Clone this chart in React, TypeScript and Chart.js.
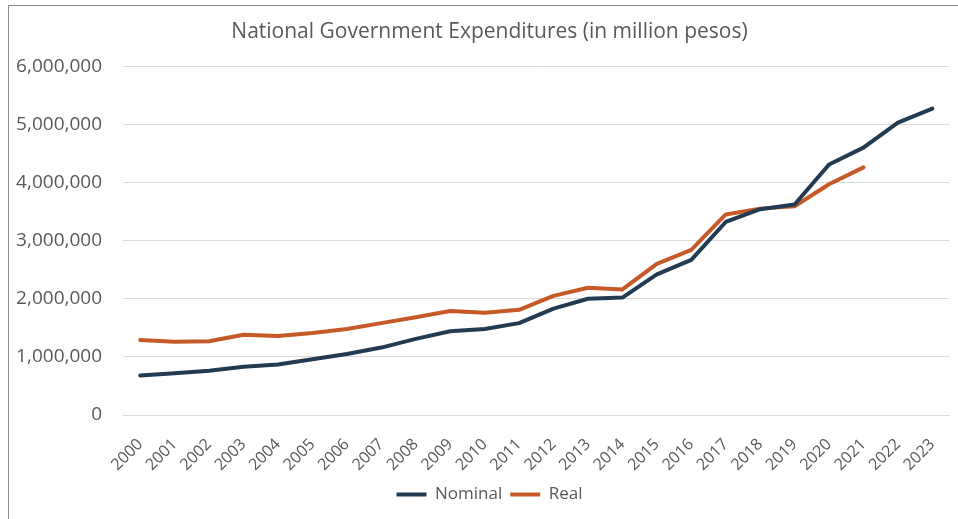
import React, { useEffect, useRef } from "react";
import { Chart, registerables } from "chart.js";

Chart.register(...registerables);

const years: string[] = [
  "2000", "2001", "2002", "2003", "2004", "2005", "2006", "2007", "2008", "2009", "2010", "2011",
  "2012", "2013", "2014", "2015", "2016", "2017", "2018", "2019", "2020", "2021", "2022", "2023",
];

const nominal: number[] = [
  680000, 720000, 760000, 830000, 870000, 960000, 1050000, 1160000, 1310000, 1440000, 1480000, 1580000,
  1830000, 2000000, 2020000, 2420000, 2670000, 3320000, 3540000, 3620000, 4310000, 4600000, 5030000, 5270000,
];

const real: (number | null)[] = [
  1290000, 1260000, 1270000, 1380000, 1360000, 1410000, 1480000, 1580000, 1680000, 1790000, 1760000, 1810000,
  2050000, 2190000, 2160000, 2600000, 2840000, 3450000, 3550000, 3590000, 3970000, 4260000, null, null,
];

const yTicks: number[] = [0, 1000000, 2000000, 3000000, 4000000, 5000000, 6000000];

const TEXT = "#595959";
const FONT = "'Open Sans', 'Noto Sans', sans-serif";

// lets the y tick labels extend into the layout padding instead of being clipped
const widenYLabelArea = {
  id: "widenYLabelArea",
  afterLayout(chart: any) {
    if (chart.scales.y) chart.scales.y.left = 0;
  },
};

export default function App() {
  const ref = useRef<HTMLCanvasElement | null>(null);

  useEffect(() => {
    document.body.style.margin = "0";
    const canvas = ref.current;
    if (!canvas) return;
    const chart = new Chart(canvas, {
      type: "line",
      data: {
        labels: years,
        datasets: [
          {
            label: "Nominal",
            data: nominal,
            borderColor: "#203b52",
            backgroundColor: "#203b52",
            borderWidth: 4,
            pointRadius: 0,
            borderCapStyle: "round",
            borderJoinStyle: "round",
            tension: 0,
          },
          {
            label: "Real",
            data: real,
            borderColor: "#c55a28",
            backgroundColor: "#c55a28",
            borderWidth: 4,
            pointRadius: 0,
            borderCapStyle: "round",
            borderJoinStyle: "round",
            tension: 0,
          },
        ],
      },
      plugins: [widenYLabelArea],
      options: {
        animation: false,
        responsive: false,
        maintainAspectRatio: false,
        layout: { padding: { left: 24, right: 3, top: 8, bottom: 6 } },
        plugins: {
          title: {
            display: true,
            text: "National Government Expenditures (in million pesos)",
            color: TEXT,
            font: { family: FONT, size: 21, weight: "normal" },
            padding: { top: 11, bottom: 22 },
          },
          legend: {
            position: "bottom",
            labels: {
              boxWidth: 30,
              boxHeight: 4,
              color: TEXT,
              font: { family: FONT, size: 17 },
              padding: 8,
              generateLabels: (c: any) =>
                c.data.datasets.map((ds: any, i: number) => ({
                  text: ds.label,
                  fillStyle: ds.borderColor,
                  strokeStyle: ds.borderColor,
                  lineWidth: 0,
                  hidden: false,
                  datasetIndex: i,
                  fontColor: TEXT,
                })),
            },
          },
          tooltip: { enabled: false },
        },
        scales: {
          x: {
            offset: true,
            grid: { display: false },
            border: { display: true, color: "#d9d9d9" },
            afterFit: (axis: any) => {
              axis.height = 63;
            },
            ticks: {
              color: TEXT,
              font: { family: FONT, size: 16 },
              minRotation: 45,
              maxRotation: 45,
              autoSkip: false,
              padding: 12,
            },
          },
          y: {
            min: 0,
            max: 6000000,
            afterBuildTicks: (axis: any) => {
              axis.ticks = yTicks.map((v) => ({ value: v }));
            },
            afterFit: (axis: any) => {
              axis.width = 99;
            },
            grid: { color: "#d9d9d9", drawTicks: false },
            border: { display: false },
            ticks: {
              color: TEXT,
              font: { family: FONT, size: 19 },
              padding: 21,
              callback: (v: any) => Number(v).toLocaleString("en-US"),
            },
          },
        },
      },
    });
    return () => chart.destroy();
  }, []);

  return (
    <div style={{ position: "relative", width: 958, height: 519 }}>
      <canvas ref={ref} width={958} height={519} style={{ display: "block" }} />
      <div
        style={{
          position: "absolute",
          left: 8,
          top: 5,
          right: 0,
          bottom: 0,
          borderLeft: "1px solid #8c8c8c",
          borderTop: "1px solid #8c8c8c",
          pointerEvents: "none",
        }}
      />
    </div>
  );
}
